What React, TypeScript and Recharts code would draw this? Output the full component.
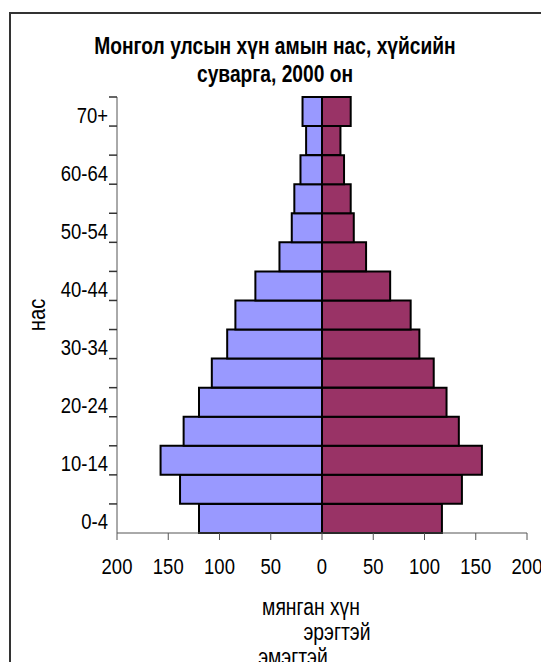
import React from "react";
import { BarChart, Bar, XAxis, YAxis } from "recharts";

// Age groups from youngest to oldest
const ageGroups = [
  "0-4", "5-9", "10-14", "15-19", "20-24", "25-29", "30-34", "35-39",
  "40-44", "45-49", "50-54", "55-59", "60-64", "65-69", "70+",
];

// thousands of people
const maleValues = [120, 138.5, 157.5, 135, 120, 107.5, 92.5, 84.5, 65, 41.5, 29.5, 27, 21, 15.5, 19];
const femaleValues = [117, 136.5, 156, 133.5, 121.5, 109, 95, 86.5, 66.5, 43, 31, 28, 21.5, 18, 28];

const xTicks = [-200, -150, -100, -50, 0, 50, 100, 150, 200];

const data = ageGroups.map((age, i) => ({
  age,
  male: -maleValues[i],
  female: femaleValues[i],
}));

const FONT = '"Liberation Sans", Arial, sans-serif';
const SQUEEZE = 0.84; // the original text is condensed

const W = 541;
const H = 662;
const M = { top: 97, right: 14, bottom: 89, left: 20 };
const Y_AXIS_W = 97;
const AXIS_X = M.left + Y_AXIS_W;
const BAND = (H - M.top - M.bottom - 40) / ageGroups.length;

const AgeTick = (props: any) => {
  const { y, index, payload } = props;
  return (
    <g>
      <line x1={AXIS_X - 8} x2={AXIS_X} y1={y - BAND / 2} y2={y - BAND / 2} stroke="#333" strokeWidth={1.5} />
      {index % 2 === 0 && (
        <text
          transform={`translate(${AXIS_X - 9},${y + 11}) scale(${SQUEEZE},1)`}
          textAnchor="end"
          fontSize={22}
          fontFamily={FONT}
          fill="#000"
        >
          {payload.value}
        </text>
      )}
    </g>
  );
};

const ValueTick = (props: any) => {
  const { x, y, payload } = props;
  return (
    <text
      transform={`translate(${x},${y + 16}) scale(${SQUEEZE},1)`}
      textAnchor="middle"
      fontSize={22}
      fontFamily={FONT}
      fill="#000"
    >
      {Math.abs(payload.value)}
    </text>
  );
};

const noteStyle: React.CSSProperties = {
  position: "absolute",
  fontSize: 23,
  lineHeight: "23px",
  whiteSpace: "nowrap",
  transform: `translateX(-50%) scaleX(${SQUEEZE})`,
};

export default function App() {
  return (
    <div style={{ position: "fixed", left: 0, top: 0, width: W, height: H, overflow: "hidden", background: "#fff", fontFamily: FONT }}>
      <div style={{ position: "absolute", left: 9, top: 12, width: 600, height: 720, border: "2px solid #333", boxSizing: "border-box" }} />
      <div
        style={{
          position: "absolute",
          left: 0,
          top: 32,
          width: 550,
          textAlign: "center",
          fontSize: 24,
          fontWeight: "bold",
          lineHeight: "28px",
          transform: "scaleX(0.8)",
        }}
      >
        Монгол улсын хүн амын нас, хүйсийн
        <br />
        суварга, 2000 он
      </div>
      <div
        style={{
          position: "absolute",
          left: 37,
          top: 315,
          transform: `translate(-50%, -50%) rotate(-90deg) scaleX(${SQUEEZE})`,
          fontSize: 24,
          lineHeight: "24px",
          whiteSpace: "nowrap",
        }}
      >
        нас
      </div>
      <div style={{ position: "absolute", left: 0, top: 0, width: W, height: H }}>
        <BarChart
          width={W}
          height={H}
          data={data}
          layout="vertical"
          stackOffset="sign"
          barCategoryGap={0}
          margin={M}
        >
          <XAxis
            type="number"
            domain={[-200, 200]}
            ticks={xTicks}
            tick={<ValueTick />}
            tickSize={7}
            tickMargin={18}
            height={40}
            stroke="#555"
            allowDataOverflow
          />
          <YAxis
            type="category"
            dataKey="age"
            reversed
            interval={0}
            width={Y_AXIS_W}
            tickLine={false}
            tick={<AgeTick />}
            stroke="#555"
          />
          <Bar dataKey="male" stackId="a" fill="#9999FF" stroke="#000" strokeWidth={2} isAnimationActive={false} />
          <Bar dataKey="female" stackId="a" fill="#993366" stroke="#000" strokeWidth={2} isAnimationActive={false} />
        </BarChart>
      </div>
      <div style={{ ...noteStyle, left: 311, top: 596 }}>мянган хүн</div>
      <div style={{ ...noteStyle, left: 337, top: 621 }}>эрэгтэй</div>
      <div style={{ ...noteStyle, left: 293, top: 646 }}>эмэгтэй</div>
    </div>
  );
}
